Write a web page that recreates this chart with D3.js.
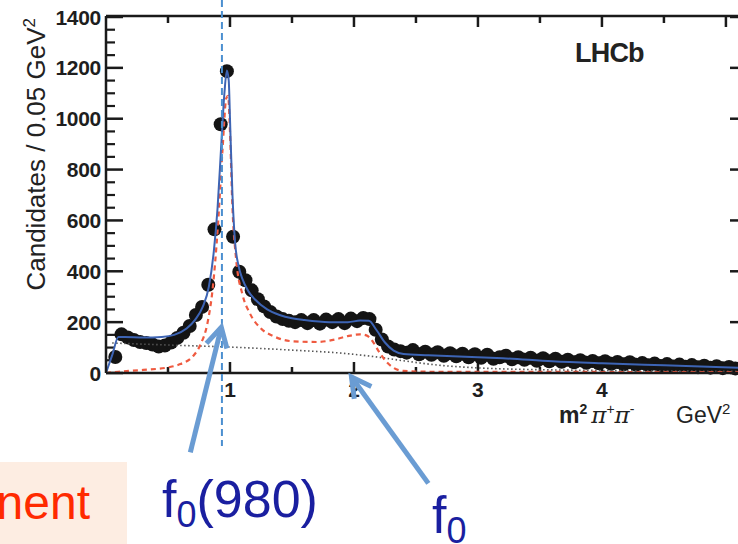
<!DOCTYPE html>
<html>
<head>
<meta charset="utf-8">
<script src="https://cdn.jsdelivr.net/npm/d3@7/dist/d3.min.js"></script>
<style>
  body { margin: 0; background: #fff; }
  svg { display: block; font-family: "Liberation Sans", Arial, sans-serif; }
</style>
</head>
<body>
<div id="chart"></div>
<script>
var svgWidth = 738;
var svgHeight = 544;

// histogram binning: 0.05 GeV^2 bins, first bin centre at 0.075
var firstBin = 0.075;
var binWidth = 0.05;

// candidates per bin
var candidates = [
  63, 152, 140, 130, 122, 118, 112, 104, 108, 120,
  138, 158, 185, 228, 260, 347, 565, 978, 1187, 536,
  398, 365, 325, 290, 262, 240, 222, 212, 205, 200,
  208, 196, 208, 194, 210, 200, 212, 196, 214, 204,
  216, 212, 170, 132, 104, 92, 86, 80, 90, 74,
  84, 72, 82, 68, 78, 66, 76, 62, 74, 60,
  72, 56, 62, 68, 54, 62, 52, 60, 48, 58,
  46, 56, 44, 52, 42, 50, 40, 47, 38, 46,
  36, 43, 34, 42, 32, 39, 30, 37, 28, 35,
  26, 33, 25, 31, 23, 29, 21, 27, 19, 24, 18
];

// total fit (blue solid)
var totalFitX = [0, 0.05, 0.1, 0.15, 0.3, 0.45, 0.55, 0.65, 0.72, 0.78, 0.83, 0.87, 0.9, 0.93, 0.955, 0.975, 0.99, 1.0, 1.02, 1.04, 1.07, 1.1, 1.15, 1.2, 1.3, 1.4, 1.5, 1.6, 1.8, 1.95, 2.05, 2.12, 2.18, 2.25, 2.32, 2.4, 2.6, 3.0, 3.2, 3.6, 4.0, 4.5, 5.2];
var totalFitY = [0, 70, 142, 142, 140, 142, 150, 175, 210, 260, 340, 480, 650, 900, 1100, 1190, 1150, 1000, 700, 520, 420, 370, 320, 290, 250, 228, 215, 208, 200, 200, 206, 205, 170, 120, 88, 75, 70, 62, 58, 46, 38, 30, 19];

// resonant component (red dashed)
var signalX = [0, 0.1, 0.3, 0.5, 0.6, 0.7, 0.76, 0.82, 0.86, 0.9, 0.94, 0.97, 0.985, 1.0, 1.02, 1.05, 1.1, 1.16, 1.25, 1.35, 1.5, 1.7, 1.85, 1.95, 2.05, 2.1, 2.15, 2.2, 2.26, 2.32, 2.4, 2.6, 3.0, 4.0, 5.2];
var signalY = [0, 5, 12, 22, 35, 65, 110, 200, 330, 560, 880, 1080, 1090, 950, 650, 445, 310, 235, 175, 145, 125, 122, 132, 145, 152, 148, 125, 85, 45, 20, 8, 5, 5, 4, 3];

// background (black dotted)
var bkgX = [0.05, 0.5, 1.0, 1.5, 1.9, 2.2, 2.4, 2.7, 3.0, 3.5, 4.0, 4.5, 5.2];
var bkgY = [118, 110, 102, 90, 78, 62, 48, 30, 20, 13, 10, 8, 6];

var yMajor = [0, 200, 400, 600, 800, 1000, 1200, 1400];
var xMajor = [1, 2, 3, 4, 5];
var xLabels = [1, 2, 3, 4];

// annotation anchors in data units
var f0Mass = 0.935;

var margin = { top: 16, left: 106, bottom: 171, right: -9 };
var plotRight = svgWidth - margin.right;
var plotBottom = svgHeight - margin.bottom;

var svg = d3.select("#chart").append("svg")
  .attr("width", svgWidth)
  .attr("height", svgHeight);

var xScale = d3.scaleLinear().domain([0, 5.17]).range([margin.left, plotRight]);
var yScale = d3.scaleLinear().domain([0, 1400]).range([plotBottom, margin.top + 1]);

// ---- frame ticks ----
var yMinor = d3.range(0, 1401, 50).filter(d => d % 200 !== 0);
var xMinor = d3.range(0.5, 5.2, 1);

var leftAxis = svg.append("g").attr("transform", `translate(${margin.left},0)`);
leftAxis.selectAll("line.maj").data(yMajor).enter().append("line")
  .attr("x1", 0).attr("x2", 17)
  .attr("y1", d => yScale(d)).attr("y2", d => yScale(d))
  .attr("stroke", "#1a1a1a").attr("stroke-width", 2.5);
leftAxis.selectAll("line.min").data(yMinor).enter().append("line")
  .attr("x1", 0).attr("x2", 9)
  .attr("y1", d => yScale(d)).attr("y2", d => yScale(d))
  .attr("stroke", "#1a1a1a").attr("stroke-width", 2.2);
leftAxis.selectAll("text").data(yMajor).enter().append("text")
  .attr("x", -5).attr("y", d => yScale(d))
  .attr("dy", "0.36em")
  .attr("text-anchor", "end")
  .attr("font-size", 21).attr("font-weight", "bold")
  .attr("letter-spacing", -0.3)
  .attr("fill", "#1e1e1e")
  .text(d => d);

var rightAxis = svg.append("g").attr("transform", `translate(${plotRight},0)`);
rightAxis.selectAll("line.maj").data(yMajor).enter().append("line")
  .attr("x1", 0).attr("x2", -17)
  .attr("y1", d => yScale(d)).attr("y2", d => yScale(d))
  .attr("stroke", "#1a1a1a").attr("stroke-width", 2.5);

var bottomAxis = svg.append("g");
bottomAxis.selectAll("line.maj").data(xMajor).enter().append("line")
  .attr("x1", d => xScale(d)).attr("x2", d => xScale(d))
  .attr("y1", plotBottom).attr("y2", plotBottom - 11)
  .attr("stroke", "#1a1a1a").attr("stroke-width", 2.5);
bottomAxis.selectAll("line.min").data(xMinor).enter().append("line")
  .attr("x1", d => xScale(d)).attr("x2", d => xScale(d))
  .attr("y1", plotBottom).attr("y2", plotBottom - 6)
  .attr("stroke", "#1a1a1a").attr("stroke-width", 2.5);
bottomAxis.selectAll("text").data(xLabels).enter().append("text")
  .attr("x", d => xScale(d)).attr("y", plotBottom + 24)
  .attr("text-anchor", "middle")
  .attr("font-size", 21).attr("font-weight", "bold")
  .attr("fill", "#1e1e1e")
  .text(d => d);

var topAxis = svg.append("g");
topAxis.selectAll("line.maj").data(xMajor).enter().append("line")
  .attr("x1", d => xScale(d)).attr("x2", d => xScale(d))
  .attr("y1", margin.top).attr("y2", margin.top + 11)
  .attr("stroke", "#1a1a1a").attr("stroke-width", 2.5);
topAxis.selectAll("line.min").data(xMinor).enter().append("line")
  .attr("x1", d => xScale(d)).attr("x2", d => xScale(d))
  .attr("y1", margin.top).attr("y2", margin.top + 7)
  .attr("stroke", "#1a1a1a").attr("stroke-width", 2.5);

// ---- data points ----
var bins = candidates.map((c, i) => ({ x: firstBin + i * binWidth, y: c }));
svg.append("g").selectAll("circle").data(bins).enter().append("circle")
  .attr("cx", d => xScale(d.x))
  .attr("cy", d => yScale(d.y))
  .attr("r", 7)
  .attr("fill", "#141414");

// ---- fit curves ----
function curve(xs, ys) {
  return d3.line()
    .x((d, i) => xScale(xs[i]))
    .y((d, i) => yScale(ys[i]))
    .curve(d3.curveMonotoneX)(ys);
}

svg.append("path").attr("d", curve(bkgX, bkgY))
  .attr("fill", "none").attr("stroke", "#555")
  .attr("stroke-width", 1.6).attr("stroke-dasharray", "1.5,2.5");

svg.append("path").attr("d", curve(signalX, signalY))
  .attr("fill", "none").attr("stroke", "#ef5a40")
  .attr("stroke-width", 2.2).attr("stroke-dasharray", "5,4");

svg.append("path").attr("d", curve(totalFitX, totalFitY))
  .attr("fill", "none").attr("stroke", "#3d64b4")
  .attr("stroke-width", 2);

// ---- frame lines ----
svg.append("line")
  .attr("x1", margin.left).attr("x2", plotRight)
  .attr("y1", margin.top).attr("y2", margin.top)
  .attr("stroke", "#1a1a1a").attr("stroke-width", 2.5);
svg.append("line")
  .attr("x1", margin.left).attr("x2", margin.left)
  .attr("y1", margin.top).attr("y2", plotBottom)
  .attr("stroke", "#1a1a1a").attr("stroke-width", 2.5);
svg.append("line")
  .attr("x1", margin.left).attr("x2", plotRight)
  .attr("y1", plotBottom).attr("y2", plotBottom)
  .attr("stroke", "#1a1a1a").attr("stroke-width", 2.5);

// ---- labels ----
svg.append("text")
  .attr("x", 575).attr("y", 62)
  .attr("font-size", 27).attr("font-weight", "bold")
  .attr("letter-spacing", -0.8)
  .attr("fill", "#222")
  .text("LHCb");

var yTitle = svg.append("text")
  .attr("transform", `translate(45, ${margin.top + 2}) rotate(-90)`)
  .attr("text-anchor", "end")
  .attr("font-size", 26)
  .attr("fill", "#222");
yTitle.append("tspan").text("Candidates / 0.05 GeV");
yTitle.append("tspan").attr("dy", -10).attr("font-size", 17).text("2");

var xTitle = svg.append("text")
  .attr("x", 559).attr("y", 423)
  .attr("font-size", 23)
  .attr("fill", "#222");
xTitle.append("tspan").attr("font-weight", "bold").text("m");
xTitle.append("tspan").attr("dy", -9).attr("font-size", 14).attr("font-weight", "bold").text("2");
xTitle.append("tspan").attr("dy", 9).attr("dx", 4).attr("font-family", "DejaVu Serif").attr("font-style", "italic").text("π");
xTitle.append("tspan").attr("dy", -9).attr("font-size", 14).text("+");
xTitle.append("tspan").attr("dy", 9).attr("font-family", "DejaVu Serif").attr("font-style", "italic").text("π");
xTitle.append("tspan").attr("dy", -9).attr("font-size", 14).text("-");
xTitle.append("tspan").attr("x", 676).attr("dy", 9).text("GeV");
xTitle.append("tspan").attr("dy", -9).attr("font-size", 15).text("2");

// ---- annotations ----
var annBlue = "#6a9cd3";

svg.append("line")
  .attr("x1", xScale(f0Mass)).attr("x2", xScale(f0Mass))
  .attr("y1", 0).attr("y2", 446)
  .attr("stroke", "#4b8fd0").attr("stroke-width", 2)
  .attr("stroke-dasharray", "7,4");

function arrow(x0, y0, x1, y1) {
  var ang = Math.atan2(y1 - y0, x1 - x0);
  var len = 22, spread = 0.5;
  var g = svg.append("g").attr("stroke", annBlue).attr("stroke-width", 5)
    .attr("fill", "none").attr("stroke-linecap", "butt");
  g.append("line").attr("x1", x0).attr("y1", y0).attr("x2", x1).attr("y2", y1);
  g.append("path")
    .attr("stroke-linejoin", "miter")
    .attr("d", d3.line()([
      [x1 - len * Math.cos(ang - spread), y1 - len * Math.sin(ang - spread)],
      [x1, y1],
      [x1 - len * Math.cos(ang + spread), y1 - len * Math.sin(ang + spread)]
    ]));
}
// arrow tips at f0(980) and the higher f0, tails toward the labels (data units)
arrow(xScale(0.68), yScale(-312), xScale(0.93), yScale(180));
arrow(xScale(2.6), yScale(-434), xScale(1.98), yScale(-16));

svg.append("rect")
  .attr("x", 0).attr("y", 462).attr("width", 127).attr("height", 82)
  .attr("fill", "#fdede2");
svg.append("text")
  .attr("x", 90).attr("y", 519)
  .attr("text-anchor", "end")
  .attr("font-size", 48)
  .attr("fill", "#ff2a00")
  .text("nent");

var f980 = svg.append("text")
  .attr("x", 162).attr("y", 517)
  .attr("font-size", 52)
  .attr("fill", "#1a1fa0");
f980.append("tspan").text("f");
f980.append("tspan").attr("dy", 10).attr("font-size", 36).text("0");
f980.append("tspan").attr("dy", -10).text("(980)");

var f0b = svg.append("text")
  .attr("x", 432).attr("y", 533)
  .attr("font-size", 52)
  .attr("fill", "#1a1fa0");
f0b.append("tspan").text("f");
f0b.append("tspan").attr("dy", 10).attr("font-size", 36).text("0");
</script>
</body>
</html>
